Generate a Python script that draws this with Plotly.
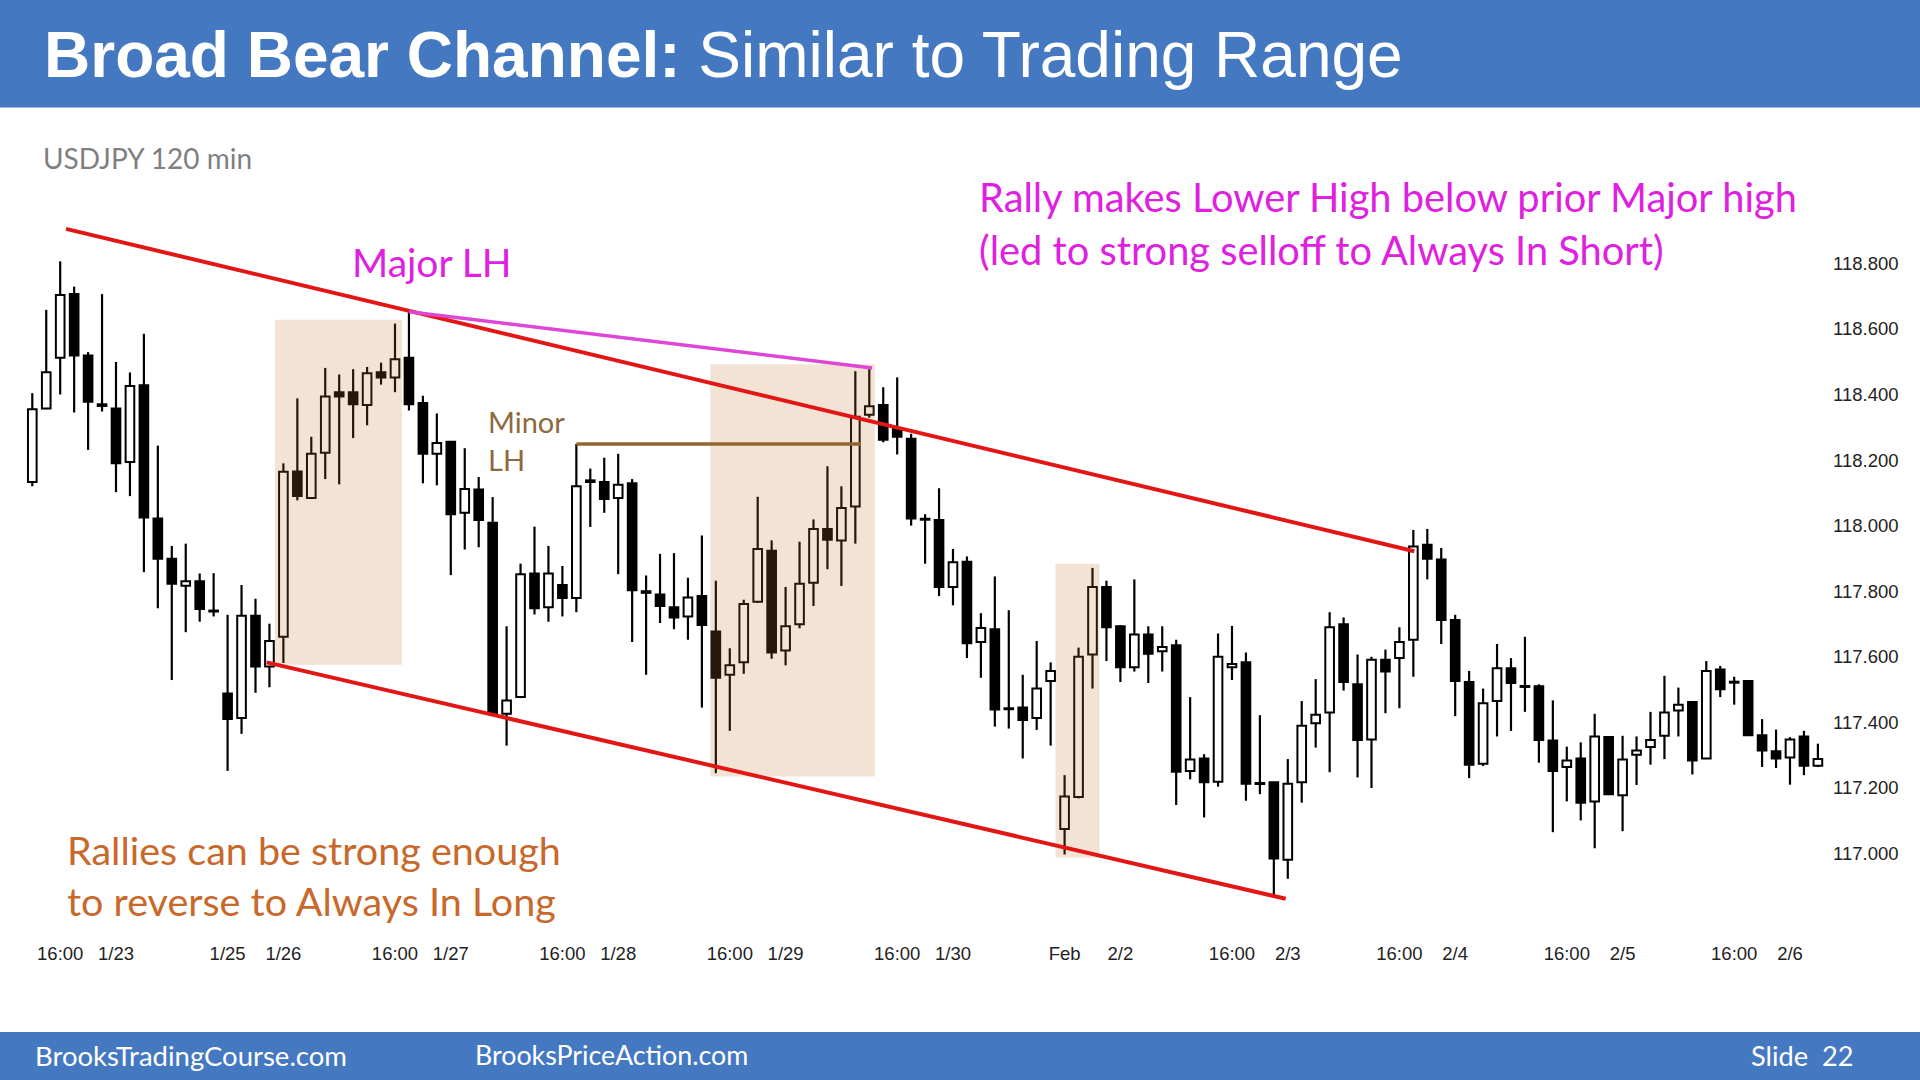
import plotly.graph_objects as go

# ---------------- data (USDJPY 120 min) ----------------
opens = [118.133, 118.357, 118.512, 118.706, 118.519, 118.370, 118.357, 118.194, 118.428, 118.022,
         117.899, 117.817, 117.830, 117.741, 117.488, 117.413, 117.725, 117.570, 117.661, 118.165,
         118.084, 118.222, 118.407, 118.407, 118.368, 118.468, 118.452, 118.512, 118.374, 118.219,
         118.256, 118.039, 118.110, 118.009, 117.426, 117.477, 117.854, 117.751, 117.819, 117.779,
         118.138, 118.133, 118.084, 118.129, 117.800, 117.790, 117.751, 117.723, 117.785, 117.677,
         117.545, 117.583, 117.768, 117.923, 117.619, 117.699, 117.826, 117.990, 117.955, 118.058,
         118.338, 118.368, 118.297, 118.265, 118.021, 118.017, 117.813, 117.890, 117.645, 117.684,
         117.443, 117.445, 117.413, 117.526, 117.075, 117.172, 117.607, 117.813, 117.693, 117.568,
         117.668, 117.617, 117.635, 117.252, 117.290, 117.219, 117.568, 117.583, 117.214, 117.217,
         116.981, 117.217, 117.397, 117.430, 117.699, 117.516, 117.348, 117.591, 117.596, 117.652,
         117.942, 117.897, 117.712, 117.523, 117.274, 117.465, 117.565, 117.511, 117.510, 117.345,
         117.264, 117.290, 117.159, 117.355, 117.178, 117.301, 117.325, 117.359, 117.436, 117.462,
         117.290, 117.561, 117.524, 117.526, 117.361, 117.312, 117.293, 117.357, 117.268]
highs = [118.404, 118.658, 118.806, 118.729, 118.529, 118.706, 118.499, 118.467, 118.585, 118.244,
         117.938, 117.945, 117.854, 117.855, 117.728, 117.819, 117.777, 117.701, 118.190, 118.388,
         118.271, 118.481, 118.461, 118.477, 118.484, 118.497, 118.616, 118.652, 118.396, 118.342,
         118.258, 118.236, 118.148, 118.087, 117.693, 117.884, 117.997, 117.938, 117.877, 118.249,
         118.174, 118.207, 118.219, 118.142, 117.848, 117.914, 117.916, 117.841, 117.970, 117.832,
         117.626, 117.774, 118.088, 117.955, 117.813, 117.951, 118.019, 118.181, 118.120, 118.471,
         118.481, 118.422, 118.452, 118.280, 118.035, 118.114, 117.929, 117.906, 117.733, 117.845,
         117.742, 117.545, 117.648, 117.583, 117.239, 117.628, 117.871, 117.832, 117.697, 117.836,
         117.693, 117.693, 117.652, 117.477, 117.303, 117.671, 117.694, 117.613, 117.422, 117.217,
         117.288, 117.465, 117.532, 117.736, 117.720, 117.607, 117.600, 117.622, 117.690, 117.987,
         117.990, 117.932, 117.728, 117.557, 117.503, 117.639, 117.596, 117.661, 117.516, 117.467,
         117.326, 117.339, 117.426, 117.357, 117.359, 117.357, 117.432, 117.542, 117.506, 117.465,
         117.587, 117.572, 117.539, 117.529, 117.410, 117.378, 117.355, 117.374, 117.335]
lows = [118.120, 118.355, 118.400, 118.345, 118.231, 118.348, 118.102, 118.090, 117.858, 117.748,
        117.529, 117.675, 117.707, 117.723, 117.252, 117.365, 117.490, 117.507, 117.581, 118.077,
        118.081, 118.142, 118.126, 118.267, 118.306, 118.430, 118.407, 118.351, 118.129, 118.123,
        117.849, 117.927, 117.934, 117.423, 117.329, 117.474, 117.729, 117.707, 117.723, 117.736,
        117.996, 118.039, 117.852, 117.645, 117.545, 117.703, 117.684, 117.652, 117.445, 117.245,
        117.374, 117.548, 117.764, 117.594, 117.574, 117.687, 117.755, 117.867, 117.816, 117.945,
        118.329, 118.254, 118.217, 118.000, 117.884, 117.785, 117.757, 117.596, 117.536, 117.387,
        117.381, 117.290, 117.377, 117.329, 116.997, 117.168, 117.503, 117.587, 117.523, 117.555,
        117.520, 117.555, 117.148, 117.226, 117.110, 117.204, 117.529, 117.161, 117.181, 116.871,
        116.923, 117.155, 117.323, 117.248, 117.497, 117.232, 117.200, 117.428, 117.443, 117.539,
        117.836, 117.639, 117.419, 117.230, 117.267, 117.357, 117.374, 117.432, 117.277, 117.065,
        117.159, 117.101, 117.016, 117.178, 117.068, 117.209, 117.271, 117.288, 117.357, 117.241,
        117.288, 117.477, 117.454, 117.359, 117.264, 117.261, 117.210, 117.239, 117.264]
closes = [118.355, 118.468, 118.703, 118.519, 118.378, 118.365, 118.190, 118.426, 118.025, 117.899,
          117.823, 117.830, 117.746, 117.738, 117.410, 117.725, 117.570, 117.648, 118.164, 118.090,
          118.219, 118.394, 118.394, 118.370, 118.465, 118.452, 118.507, 118.370, 118.219, 118.252,
          118.035, 118.112, 118.017, 117.426, 117.467, 117.852, 117.748, 117.854, 117.779, 118.120,
          118.133, 118.081, 118.125, 117.803, 117.795, 117.755, 117.720, 117.781, 117.697, 117.536,
          117.574, 117.761, 117.929, 117.613, 117.693, 117.823, 117.990, 117.957, 118.054, 118.332,
          118.364, 118.262, 118.271, 118.022, 118.018, 117.813, 117.888, 117.641, 117.688, 117.439,
          117.440, 117.407, 117.503, 117.557, 117.174, 117.600, 117.813, 117.690, 117.568, 117.668,
          117.609, 117.630, 117.249, 117.287, 117.217, 117.600, 117.578, 117.213, 117.212, 116.985,
          117.213, 117.390, 117.423, 117.690, 117.523, 117.346, 117.591, 117.555, 117.645, 117.936,
          117.899, 117.712, 117.526, 117.271, 117.458, 117.565, 117.520, 117.508, 117.346, 117.252,
          117.284, 117.155, 117.357, 117.181, 117.287, 117.314, 117.346, 117.430, 117.454, 117.284,
          117.557, 117.501, 117.521, 117.361, 117.314, 117.290, 117.348, 117.268, 117.288]

bar_index = list(range(len(opens)))

tick_positions = [2, 6, 14, 18, 26, 30, 38, 42, 50, 54, 62, 66, 74, 78, 86, 90, 98, 102, 110, 114, 122, 126]
tick_labels = ["16:00", "1/23", "1/25", "1/26", "16:00", "1/27", "16:00", "1/28", "16:00", "1/29",
               "16:00", "1/30", "Feb", "2/2", "16:00", "2/3", "16:00", "2/4", "16:00", "2/5", "16:00", "2/6"]
price_ticks = [117.0, 117.2, 117.4, 117.6, 117.8, 118.0, 118.2, 118.4, 118.6, 118.8]

# annotation geometry (bar index, price)
upper_channel = [(2.42, 118.905), (99.07, 117.922)]
lower_channel = [(16.8, 117.583), (89.85, 116.862)]
major_lh_line = [(27.0, 118.652), (60.2, 118.481)]
minor_lh_line = [(39.0, 118.249), (59.4, 118.249)]
highlight_boxes = [(17.4, 26.5, 117.576, 118.628), (48.6, 60.4, 117.235, 118.492), (73.35, 76.5, 116.987, 117.884)]

# ---------------- layout geometry ----------------
W, H = 1920, 1080
PL, PR, PT, PB = 0, 1828, 200, 940
X0 = -2.315
X1 = X0 + (PR - PL) / 13.95
PX_PER_PRICE = 327.9
Y_TOP = 118.8 + (263.3 - PT) / PX_PER_PRICE
Y_BOT = 118.8 - (PB - 263.3) / PX_PER_PRICE


def pxx(x):
    return (x - PL) / (PR - PL)


def pxy(y):
    return (PB - y) / (PB - PT)


# candle pieces derived from OHLC
body_lo = [min(o, c) for o, c in zip(opens, closes)]
body_hi = [max(o, c) for o, c in zip(opens, closes)]
body_len = [max(hi - lo, 0.003) for lo, hi in zip(body_lo, body_hi)]
body_col = ["white" if c >= o else "black" for o, c in zip(opens, closes)]
wick_x, wick_y = [], []
for i, h, l, lo, hi in zip(bar_index, highs, lows, body_lo, body_hi):
    wick_x += [i, i, None, i, i, None]
    wick_y += [h, hi, None, lo, l, None]

fig = go.Figure()
fig.add_trace(go.Bar(
    x=bar_index, y=body_len, base=body_lo, width=0.62,
    marker=dict(color=body_col, line=dict(color="black", width=2)),
    hoverinfo="skip", showlegend=False,
))
fig.add_trace(go.Scatter(
    x=wick_x, y=wick_y, mode="lines", line=dict(color="black", width=2.2),
    hoverinfo="skip", showlegend=False,
))

shapes = []
# header and footer bars
shapes.append(dict(type="rect", xref="paper", yref="paper", x0=pxx(0), x1=pxx(W), y0=pxy(107.5), y1=pxy(0),
                   fillcolor="#4479C2", line=dict(width=0), layer="above"))
shapes.append(dict(type="rect", xref="paper", yref="paper", x0=pxx(0), x1=pxx(W), y0=pxy(H), y1=pxy(1032),
                   fillcolor="#4479C2", line=dict(width=0), layer="above"))
# highlight boxes (semi-transparent, above candles)
for bx0, bx1, by0, by1 in highlight_boxes:
    shapes.append(dict(type="rect", xref="x", yref="y", x0=bx0, x1=bx1, y0=by0, y1=by1,
                       fillcolor="rgba(190,115,45,0.2)", line=dict(width=0), layer="above"))
# lines
for (a, b), col, w in [(upper_channel, "#E31616", 4), (lower_channel, "#E31616", 4),
                       (major_lh_line, "#E046D6", 3.5), (minor_lh_line, "#93642F", 3.5)]:
    shapes.append(dict(type="line", xref="x", yref="y", x0=a[0], y0=a[1], x1=b[0], y1=b[1],
                       line=dict(color=col, width=w), layer="above"))

ann = []


def text(x, y, s, size, color, family="Lato"):
    ann.append(dict(xref="paper", yref="paper", x=pxx(x), y=pxy(y), text=s, showarrow=False,
                    xanchor="left", yanchor="middle", font=dict(family=family, size=size, color=color)))


text(42, 55, "<b>Broad Bear Channel:</b> Similar to Trading Range", 64, "white", "Liberation Sans")
text(41, 158, "USDJPY 120 min", 28, "#7F7F7F")
text(350, 262, "Major LH", 39, "#E020E0")
text(977, 197, "Rally makes Lower High below prior Major high", 39.8, "#E020E0")
text(977, 249, "(led to strong selloff to Always In Short)", 39.8, "#E020E0")
text(486, 421, "Minor", 29, "#8C6A3C")
text(486, 459, "LH", 29, "#8C6A3C")
text(65, 849, "Rallies can be strong enough", 39.5, "#C8682A")
text(65, 900, "to reverse to Always In Long", 39.5, "#C8682A")
text(33, 1055, "BrooksTradingCourse.com", 27.5, "white")
text(473, 1055, "BrooksPriceAction.com", 26.8, "white")
text(1749, 1055, "Slide  22", 27.2, "white")

fig.update_layout(
    width=W, height=H,
    margin=dict(l=PL, r=W - PR, t=PT, b=H - PB),
    paper_bgcolor="white", plot_bgcolor="white",
    barmode="overlay",
    shapes=shapes, annotations=ann,
    xaxis=dict(range=[X0, X1], showgrid=False, zeroline=False,
               showline=False, ticks="", tickmode="array", tickvals=tick_positions, ticktext=tick_labels,
               tickfont=dict(family="Liberation Sans", size=18.5, color="#222222")),
    yaxis=dict(range=[Y_BOT, Y_TOP], side="right", showgrid=False, zeroline=False, showline=False,
               ticks="", tickmode="array", tickvals=price_ticks, ticklabelstandoff=4,
               ticktext=["%.3f" % v for v in price_ticks],
               tickfont=dict(family="Liberation Sans", size=18.5, color="#222222")),
)

fig.write_html("out.html")
